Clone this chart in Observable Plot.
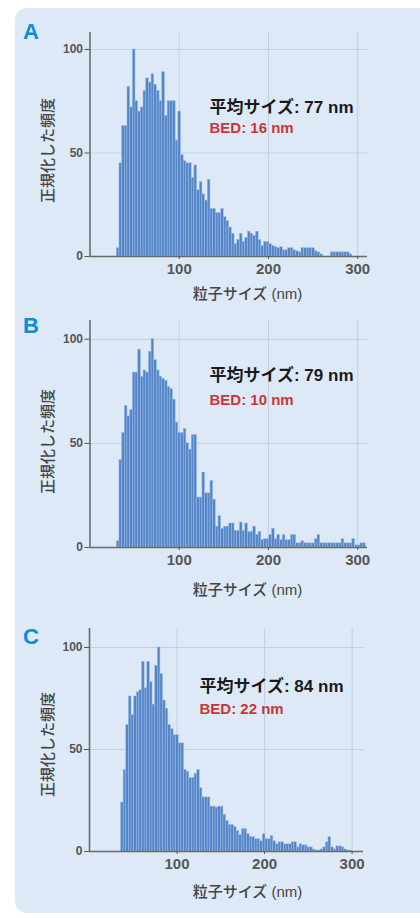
<!DOCTYPE html>
<html>
<head>
<meta charset="utf-8">
<script src="https://cdn.jsdelivr.net/npm/d3@7"></script>
<script src="https://cdn.jsdelivr.net/npm/@observablehq/plot@0.6"></script>
<style>
  html, body { margin: 0; padding: 0; background: #ffffff; }
  body { width: 420px; height: 918px; position: relative; overflow: hidden; }
  #card { position: absolute; left: 15px; top: 8px; width: 430px; height: 905px; background: #dde9f6; border-radius: 12px; }
  .panel { position: absolute; left: 0; }
  .panel svg { display: block; }
</style>
</head>
<body>
<div id="card"></div>
<div id="pA" class="panel" style="top:0px"></div>
<div id="pB" class="panel" style="top:305px"></div>
<div id="pC" class="panel" style="top:605px"></div>
<script>
// ---- data ----
const binStart = 30;   // nm, left edge of first bin
const binWidth = 3;    // nm
const freqA = [4,45,63,63,82,72,100,75,70,72, 80,86,84,88,83,80,75,89,68,75,
  75,75,56,70,49,46,45,45,38,44, 32,36,30,27,37,23,23,21,21,23,
  19,17,14,11,6,8,11,7,9,12, 11,10,12,8,5,7,7,6,5,4.5,
  4,4.5,3,3,4,4,3,2.5,2,4, 4,4,4,4,2.5,2,1,0,0,0,
  2,2,2,2,2,2,2,1,0,0];
const freqB = [3,42,55,68,63,66,84,84,95,82, 85,84,94,100,90,85,82,81,80,77,
  76,71,60,55,55,57,50,47,54,54, 24,24,36,26,26,32,23,10,15,9,
  10,10,11.5,11.5,8,8,12,8,11.5,7.5, 7.5,10,6,7.5,3.5,4,4,6,9,4,
  6,3.5,6,3.5,3.5,6,6,2,2,3, 2,2,2,2,4,6,2,2,2,2,
  2,2,2,2,4,2,2,2,4,1, 1,2,2];
const freqC = [0,0,24,40,62,76,67,76,78,79, 93,80,93,83,72,91,100,87,74,70,
  62,60,57,57,53,53,40,39,36,36, 38,40,31,26.5,26.5,26.5,22,22,21.5,22,
  22,18,15,13,13,12,10,8,11,11, 8.5,7,7,6,6,5,8.5,6,6,7.5,
  5,3.5,4.5,4.5,3.5,3.5,3.5,4.5,4.5,2, 3.5,3,3,2,2,1,0.5,0.5,1,2,
  4.5,7,2,1,2.5,2.5,2,1,0.5,0.5];
const panelLabels = ["A", "B", "C"];
const meanLabels = ["平均サイズ: 77 nm", "平均サイズ: 79 nm", "平均サイズ: 84 nm"];
const bedLabels = ["BED: 16 nm", "BED: 10 nm", "BED: 22 nm"];
const xTicks = [100, 200, 300];
const yTicks = [0, 50, 100];
const gridYTicks = [50, 100];
const xTitle = "粒子サイズ (nm)";
const yTitle = "正規化した頻度";

// ---- style ----
const FONT = "'Liberation Sans', Arial, 'Noto Sans CJK JP', sans-serif";
const BAR = "#5385c7";
const BAR_EDGE = "#9dbde6";
const GRID = "#c2d0de";
const AXIS = "#6a6a6a";
const TICK_TEXT = "#555555";
const BLUE = "#0a8ed8";
const RED = "#c8363a";

function rowsOf(freq) {
  return freq.map((v, i) => ({x1: binStart + i * binWidth, x2: binStart + (i + 1) * binWidth, y1: 0, y2: v}));
}

function panel(el, freq, idx, L) {
  const fx = L.marginLeft, fy = L.marginTop;
  const fb = L.height - L.marginBottom;
  const chart = Plot.plot({
    width: 420,
    height: L.height,
    marginTop: L.marginTop,
    marginBottom: L.marginBottom,
    marginLeft: L.marginLeft,
    marginRight: L.marginRight,
    style: {background: "transparent", overflow: "visible", fontFamily: FONT},
    x: {domain: [0, L.xMax]},
    y: {domain: [0, L.yMax]},
    marks: [
      Plot.gridX(xTicks, {stroke: GRID, strokeOpacity: 1, strokeWidth: 1}),
      Plot.gridY(gridYTicks, {stroke: GRID, strokeOpacity: 1, strokeWidth: 1}),
      Plot.rect(rowsOf(freq), {x1: "x1", x2: "x2", y1: "y1", y2: "y2", fill: BAR, stroke: BAR_EDGE, strokeWidth: 0.5}),
      Plot.ruleX([0], {stroke: AXIS, strokeWidth: 1.6}),
      Plot.ruleY([0], {stroke: AXIS, strokeWidth: 1.6}),
      Plot.axisY(yTicks, {tickSize: 5, tickPadding: 2, fontSize: 12, fontWeight: "bold", color: TICK_TEXT, label: null}),
      Plot.axisX(xTicks, {tickSize: 3, tickPadding: 4, fontSize: 15, fontWeight: "bold", color: TICK_TEXT, label: null}),
      Plot.text([panelLabels[idx]], {frameAnchor: "top-left", dx: L.lab[0] - fx, dy: L.lab[1] - fy, text: d => d,
        fontSize: 22, fontWeight: "bold", fill: BLUE, textAnchor: "middle", lineAnchor: "middle"}),
      Plot.text([meanLabels[idx]], {frameAnchor: "top-left", dx: L.ann[0] - fx, dy: L.ann[1] - fy, text: d => d,
        fontSize: 17, fontWeight: "bold", fill: "#1a1a1a", textAnchor: "start", lineAnchor: "middle"}),
      Plot.text([bedLabels[idx]], {frameAnchor: "top-left", dx: L.ann[0] - fx, dy: L.ann[2] - fy, text: d => d,
        fontSize: 15, fontWeight: "bold", fill: RED, textAnchor: "start", lineAnchor: "middle", letterSpacing: 0.3}),
      Plot.text([xTitle], {frameAnchor: "bottom-left", dx: L.xt[0] - fx, dy: L.xt[1] - fb, text: d => d,
        fontSize: 15, fontWeight: 500, fill: "#444", textAnchor: "middle", lineAnchor: "middle"}),
      Plot.text([yTitle], {frameAnchor: "top-left", dx: L.yt[0] - fx, dy: L.yt[1] - fy, text: d => d, rotate: -90,
        fontSize: 15, fontWeight: 500, fill: "#444", textAnchor: "middle", lineAnchor: "middle"})
    ]
  });
  document.getElementById(el).appendChild(chart);
}

// positions are in the panel's own SVG coordinates
panel("pA", freqA, 0, {height: 305, marginTop: 32, marginBottom: 49, marginLeft: 89.5, marginRight: 53,
  xMax: 311, yMax: 108.2, lab: [30.5, 31], ann: [209, 107, 128], xt: [247, 294], yt: [48, 150]});
panel("pB", freqB, 1, {height: 300, marginTop: 15, marginBottom: 58, marginLeft: 89.5, marginRight: 53,
  xMax: 311, yMax: 109, lab: [30.5, 20.5], ann: [209, 70, 95], xt: [247, 285], yt: [48, 136]});
panel("pC", freqC, 2, {height: 313, marginTop: 23, marginBottom: 67, marginLeft: 89, marginRight: 57,
  xMax: 313, yMax: 109.3, lab: [30.5, 31], ann: [199, 81, 104], xt: [247, 287], yt: [48, 139]});
</script>
</body>
</html>
